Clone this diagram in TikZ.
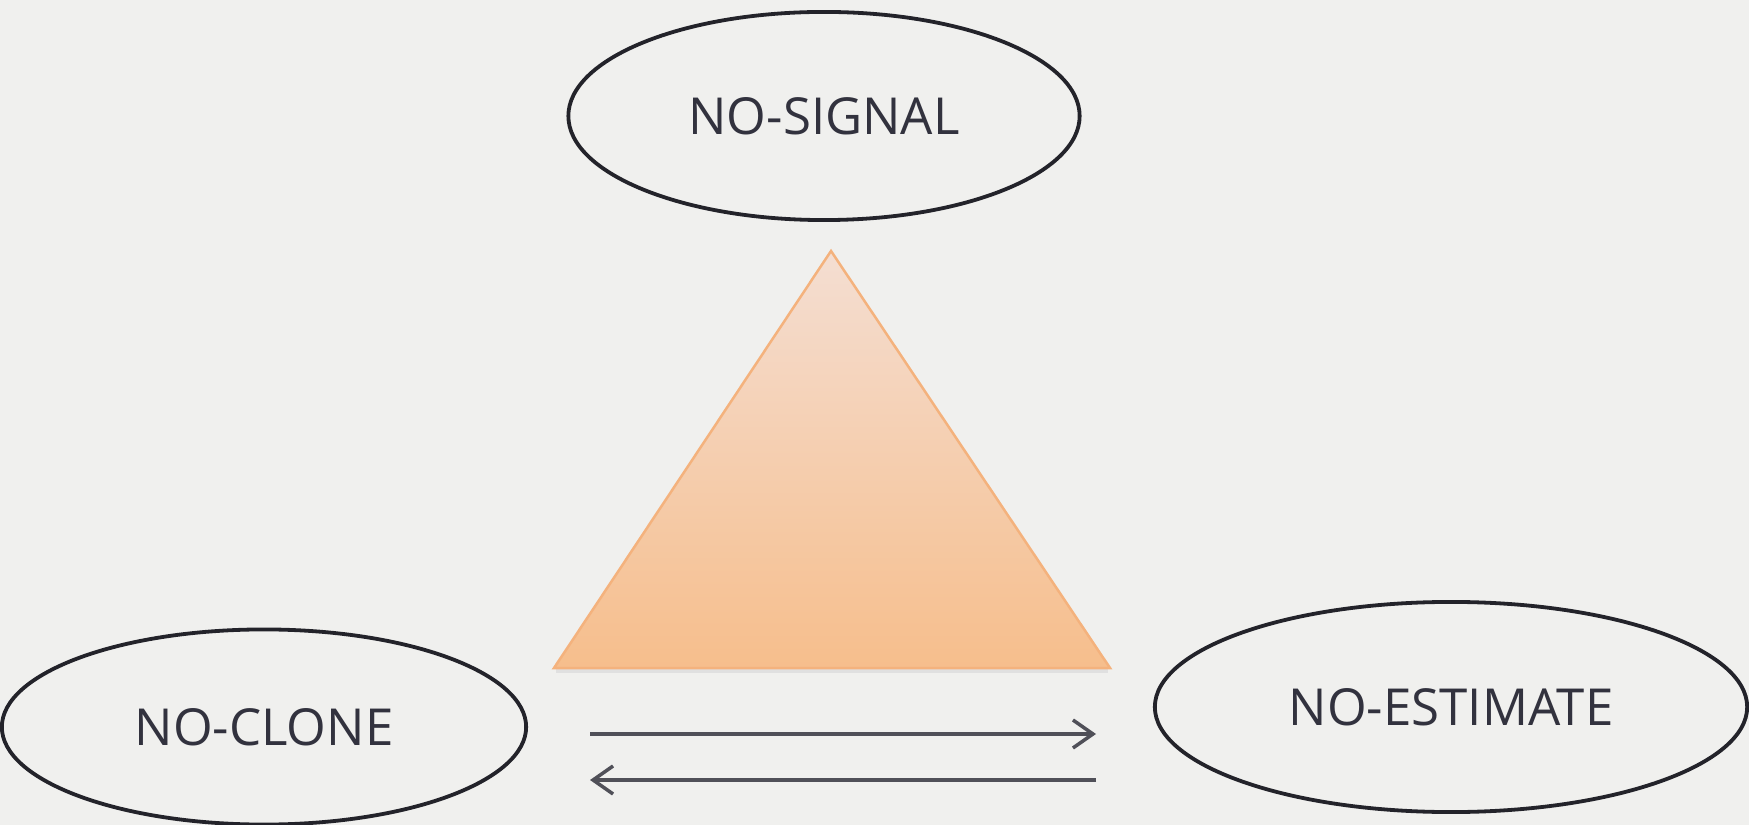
\documentclass[tikz,border=0pt]{standalone}
\usepackage{fontspec}
\setmainfont{Open Sans}
\usetikzlibrary{shapes.geometric,arrows.meta}
\definecolor{bgc}{RGB}{240,240,238}
\definecolor{edgec}{RGB}{35,35,42}
\definecolor{txtc}{RGB}{50,50,62}
\definecolor{arrc}{RGB}{80,80,88}
\definecolor{tritop}{RGB}{244,222,210}
\definecolor{tribot}{RGB}{246,190,140}
\definecolor{triedge}{RGB}{244,178,125}
\tikzset{
  stateell/.style={ellipse, draw=edgec, line width=0.38mm, inner sep=0pt,
    font=\fontsize{14.5}{16}\selectfont, text=txtc},
  flowarrow/.style={draw=arrc, line width=0.35mm,
    -{Straight Barb[length=2mm,width=2.8mm,line width=0.35mm]}}
}
\begin{document}
\begin{tikzpicture}[x=0.01cm,y=-0.01cm]
\fill[bgc] (0,0) rectangle (1749,825);
\useasboundingbox (0,0) rectangle (1749,825);
% triangle
\coordinate (apex) at (831,251);
\coordinate (bl) at (554,668);
\coordinate (br) at (1110,668);
\fill[black!12] (556,668) rectangle (1108,673);
\path[draw=triedge, line width=0.25mm, top color=tritop, bottom color=tribot]
  (apex) -- (bl) -- (br) -- cycle;
% states
\node[stateell, minimum width=5.11cm, minimum height=2.08cm] (sig) at (824,116) {NO-SIGNAL};
\node[stateell, minimum width=5.24cm, minimum height=1.95cm] (clone) at (264,727) {NO-CLONE};
\node[stateell, minimum width=5.92cm, minimum height=2.10cm] (est) at (1451,707) {NO-ESTIMATE};
% arrows
\coordinate (r1) at (590,734);
\coordinate (r2) at (1096,734);
\coordinate (l1) at (1096,780);
\coordinate (l2) at (590,780);
\draw[flowarrow] (r1) -- (r2);
\draw[flowarrow] (l1) -- (l2);
\end{tikzpicture}
\end{document}
